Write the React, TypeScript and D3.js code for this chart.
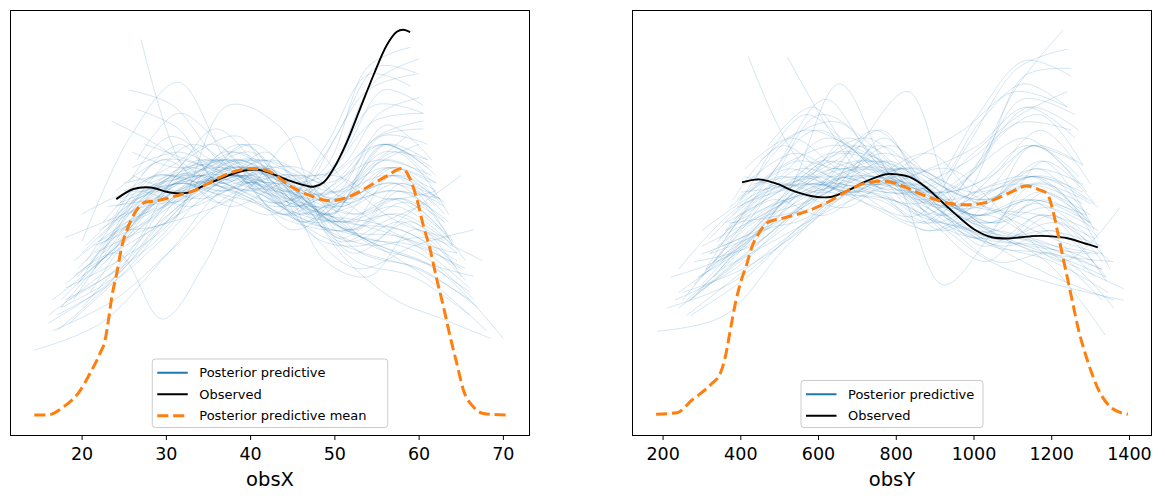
import * as d3 from "d3";
import React from "react";

const W = 1165;
const H = 499;
const FONT = "DejaVu Sans, Verdana, sans-serif";

// ---- obsX panel data (x in data units, y = relative density) ----
const obsXTicks = [20, 30, 40, 50, 60, 70];

const obsXObserved: [number, number][] = [
  [24.05, 55.9], [26.1, 58.5], [28.08, 58.9], [30.46, 57.6], [32.44, 57.5],
  [34.41, 59.3], [36.78, 61.5], [39.15, 63.2], [40.74, 63.5], [42.32, 62.6],
  [44.69, 60.6], [46.68, 59.3], [47.46, 59.1], [48.65, 60.2], [49.83, 63.7],
  [51.42, 70.6], [53.0, 79.2], [54.58, 87.8], [56.17, 95.6], [57.35, 99.0],
  [58.14, 99.5], [58.93, 98.9],
];

const obsXMean: [number, number][] = [
  [14.33, 0.3], [15.83, 0.3], [17.8, 2.4], [19.57, 6.0], [20.96, 11.1],
  [22.15, 16.3], [22.74, 19.7], [23.13, 24.8], [23.54, 30.9], [24.13, 37.0],
  [24.72, 43.8], [25.51, 49.0], [26.3, 52.5], [27.49, 55.1], [28.88, 55.5],
  [31.25, 56.8], [33.22, 58.0], [35.99, 61.1], [38.37, 63.2], [40.34, 63.8],
  [42.32, 62.9], [44.69, 59.3], [47.07, 56.8], [49.44, 55.5], [51.42, 56.3],
  [53.8, 58.9], [56.17, 61.9], [57.95, 63.8], [58.93, 61.1], [59.73, 55.9],
  [60.51, 49.0], [61.3, 43.0], [62.1, 35.2], [62.88, 28.3], [63.68, 20.5],
  [64.47, 13.6], [65.26, 6.7], [66.44, 2.4], [67.63, 0.7], [70.3, 0.3],
];

// each draw: [first x, last x, densities read at evenly spaced x]
const obsXDraws: [number, number, number[]][] = [
  [14.3, 70.0, [17, 24, 42, 60, 55, 45, 38, 20]],
  [16.0, 66.0, [26, 38, 52, 62, 55, 50, 45, 33]],
  [16.5, 64.0, [30, 42, 58, 64, 52, 55, 60, 45]],
  [17.0, 63.0, [22, 35, 55, 66, 58, 50, 62, 55]],
  [17.5, 65.5, [28, 45, 60, 58, 50, 48, 55, 40]],
  [18.0, 62.0, [33, 40, 50, 68, 62, 52, 70, 62]],
  [18.5, 67.0, [24, 38, 55, 62, 56, 42, 38, 28]],
  [19.0, 60.5, [30, 48, 62, 60, 55, 60, 80, 78]],
  [19.5, 64.5, [36, 50, 58, 66, 55, 45, 50, 38]],
  [20.0, 63.5, [28, 44, 64, 62, 48, 56, 68, 52]],
  [20.5, 59.5, [40, 55, 60, 56, 52, 66, 84, 88]],
  [21.0, 66.5, [32, 52, 66, 58, 50, 46, 42, 30]],
  [21.5, 61.0, [38, 58, 62, 68, 60, 52, 72, 70]],
  [22.0, 62.5, [45, 52, 58, 70, 55, 50, 56, 48]],
  [22.5, 60.0, [42, 60, 70, 62, 52, 62, 86, 92]],
  [23.0, 64.0, [48, 62, 58, 55, 50, 48, 60, 44]],
  [23.5, 59.0, [50, 58, 68, 72, 58, 64, 90, 95]],
  [24.0, 61.5, [52, 66, 60, 58, 54, 60, 75, 66]],
  [24.5, 65.0, [55, 60, 66, 62, 46, 44, 50, 36]],
  [25.0, 62.0, [58, 64, 70, 60, 50, 58, 62, 54]],
  [25.5, 60.0, [60, 72, 66, 62, 56, 72, 90, 88]],
  [26.0, 63.0, [62, 58, 60, 68, 54, 48, 58, 50]],
  [26.5, 61.0, [66, 78, 70, 58, 52, 58, 70, 62]],
  [27.0, 58.5, [97, 66, 55, 60, 62, 55, 64, 72]],
  [20.0, 60.0, [45, 72, 86, 66, 55, 50, 64, 70]],
  [18.0, 63.0, [30, 38, 50, 80, 74, 46, 52, 45]],
  [19.0, 61.0, [36, 42, 25, 40, 62, 60, 45, 50, 55]],
  [23.0, 68.5, [40, 56, 62, 64, 56, 40, 30, 25, 20]],
  [22.0, 66.0, [44, 54, 66, 60, 48, 42, 38, 30]],
  [21.0, 67.5, [36, 50, 62, 66, 50, 44, 46, 40]],
  [28.0, 64.5, [60, 64, 66, 60, 40, 36, 48, 42]],
  [25.0, 62.0, [48, 50, 62, 66, 62, 48, 62, 58]],
  [27.5, 60.5, [58, 60, 58, 64, 58, 68, 84, 80]],
  [20.5, 64.5, [38, 46, 54, 62, 64, 54, 46, 42]],
  [17.0, 61.5, [26, 34, 46, 60, 66, 60, 66, 62]],
  [23.5, 63.0, [46, 60, 64, 70, 60, 55, 62, 52]],
  [24.0, 59.0, [54, 58, 62, 58, 55, 70, 88, 85]],
  [26.0, 65.5, [64, 68, 62, 58, 52, 50, 46, 35]],
  [19.5, 62.0, [34, 52, 60, 54, 60, 62, 56, 58]],
  [22.0, 60.5, [48, 54, 56, 62, 58, 56, 72, 76]],
  [18.5, 66.0, [30, 40, 58, 70, 56, 40, 36, 26]],
  [21.5, 63.5, [42, 48, 52, 58, 72, 60, 50, 46]],
  [25.5, 61.5, [56, 62, 74, 64, 50, 56, 64, 60]],
  [27.0, 60.0, [62, 70, 60, 66, 62, 64, 78, 82]],
  [16.5, 68.0, [22, 30, 44, 58, 56, 46, 36, 22]],
  [23.5, 60.5, [76, 70, 62, 56, 52, 60, 72, 74]],
  [25.5, 62.5, [84, 80, 66, 58, 54, 56, 64, 55]],
  [26.5, 61.0, [79, 74, 60, 64, 60, 58, 70, 66]],
  [18.0, 66.5, [46, 52, 58, 62, 50, 38, 44, 48]],
  [20.0, 65.0, [52, 58, 54, 60, 58, 42, 52, 62]],
  [17.5, 64.5, [30, 44, 56, 62, 58, 50, 48, 40]],
  [19.0, 63.0, [40, 50, 56, 64, 60, 56, 60, 54]],
  [20.5, 62.0, [44, 56, 64, 60, 56, 54, 66, 60]],
  [22.5, 65.5, [50, 62, 60, 64, 54, 46, 44, 38]],
  [24.0, 63.5, [58, 66, 64, 60, 56, 52, 56, 46]],
  [21.0, 62.0, [40, 52, 60, 66, 58, 58, 64, 56]],
  [18.0, 64.0, [34, 46, 60, 62, 56, 50, 54, 44]],
  [23.0, 61.0, [54, 56, 60, 64, 54, 60, 70, 64]],
  [25.0, 66.0, [60, 62, 58, 62, 56, 44, 40, 32]],
  [19.5, 60.5, [38, 50, 58, 62, 60, 62, 76, 78]],
  [26.0, 62.5, [68, 64, 66, 60, 52, 54, 60, 56]],
  [22.0, 63.5, [46, 56, 62, 58, 62, 56, 58, 50]],
  [17.5, 62.5, [28, 36, 52, 62, 64, 54, 58, 56]],
  [20.0, 66.5, [36, 48, 58, 66, 54, 46, 40, 36]],
  [24.5, 61.0, [56, 60, 64, 68, 58, 58, 68, 66]],
  [21.5, 64.0, [44, 50, 60, 60, 52, 50, 52, 44]],
  [23.0, 62.0, [50, 58, 56, 60, 62, 54, 64, 60]],
  [16.0, 65.0, [24, 34, 50, 64, 60, 48, 46, 38]],
  [27.5, 63.0, [70, 66, 62, 62, 56, 52, 56, 50]],
  [20.0, 61.5, [42, 54, 62, 58, 54, 62, 70, 64]],
];

// ---- obsY panel data ----
const obsYTicks = [200, 400, 600, 800, 1000, 1200, 1400];

const obsYObserved: [number, number][] = [
  [403.2, 60.5], [446.1, 61.3], [488.8, 60.3], [540.2, 58.1], [591.6, 56.8],
  [634.6, 56.8], [677.5, 58.5], [720.2, 60.7], [771.6, 62.6], [788.8, 62.7],
  [831.8, 62.0], [874.5, 59.4], [917.4, 55.5], [960.3, 51.6], [1003.1, 48.2],
  [1046, 46.3], [1089, 46.0], [1148.8, 46.6], [1191.8, 46.6], [1243.2, 46.0],
  [1286, 44.7], [1318.6, 43.7],
];

const obsYMean: [number, number][] = [
  [182, 0.5], [236, 0.9], [274.6, 4.2], [326, 8.5], [347.4, 11.1],
  [360.2, 15.4], [373, 22.3], [386, 29.2], [398.8, 34.4], [416, 39.6],
  [428.9, 43.9], [446.1, 47.3], [471.8, 50.3], [506, 51.2], [565.9, 52.9],
  [626, 55.5], [677.5, 58.5], [720.2, 60.3], [765, 60.8], [800, 60.2],
  [840.3, 58.5], [891.7, 56.4], [934.7, 55.1], [986, 54.7], [1037.5, 55.5],
  [1089, 57.7], [1136, 59.6], [1170.2, 58.5], [1187.5, 57.7], [1204.7, 52.5],
  [1217.5, 46.5], [1230.4, 40.4], [1243.2, 34.4], [1256.1, 28.3], [1269, 22.3],
  [1286, 16.3], [1303.1, 11.1], [1320.4, 6.8], [1346, 2.9], [1380.3, 0.8],
  [1396, 0.5],
];

const obsYDraws: [number, number, number[]][] = [
  [185, 1385, [22, 26, 45, 58, 52, 40, 34, 30]],
  [220, 1330, [36, 42, 55, 62, 52, 48, 44, 30]],
  [240, 1340, [28, 40, 52, 66, 58, 44, 52, 35]],
  [250, 1320, [32, 38, 48, 60, 64, 50, 45, 42]],
  [270, 1350, [30, 46, 60, 58, 50, 56, 60, 38]],
  [280, 1300, [40, 44, 56, 70, 58, 46, 60, 55]],
  [300, 1360, [34, 50, 62, 64, 52, 40, 42, 28]],
  [310, 1260, [38, 56, 60, 58, 55, 62, 82, 78]],
  [320, 1310, [42, 48, 58, 66, 60, 50, 55, 45]],
  [330, 1290, [36, 52, 66, 60, 48, 56, 70, 58]],
  [340, 1240, [45, 58, 60, 55, 52, 70, 90, 95]],
  [350, 1345, [40, 54, 64, 60, 50, 44, 40, 32]],
  [360, 1280, [48, 60, 58, 70, 60, 52, 70, 65]],
  [370, 1300, [50, 52, 56, 72, 56, 50, 58, 52]],
  [380, 1230, [52, 62, 72, 64, 52, 62, 85, 100]],
  [390, 1320, [55, 64, 58, 56, 50, 48, 58, 46]],
  [400, 1250, [58, 60, 66, 74, 58, 64, 88, 90]],
  [410, 1300, [60, 68, 62, 58, 52, 62, 74, 60]],
  [420, 1340, [93, 66, 58, 64, 50, 44, 48, 36]],
  [430, 1290, [62, 60, 72, 62, 52, 58, 64, 52]],
  [520, 1280, [93, 74, 60, 58, 54, 72, 78, 65]],
  [260, 1310, [30, 42, 58, 86, 62, 48, 56, 66, 48]],
  [330, 1330, [40, 48, 52, 70, 84, 54, 46, 52, 40]],
  [400, 1310, [52, 60, 68, 62, 34, 48, 66, 55]],
  [350, 1375, [38, 46, 54, 60, 64, 52, 40, 54]],
  [410, 1250, [64, 72, 64, 58, 60, 78, 92, 88]],
  [280, 1337, [34, 50, 56, 62, 58, 48, 40, 21]],
  [300, 1385, [44, 52, 60, 58, 56, 46, 40, 33]],
  [240, 1310, [38, 54, 60, 70, 56, 54, 50, 36]],
  [380, 1260, [56, 70, 62, 60, 64, 70, 80, 72]],
  [320, 1270, [46, 60, 74, 66, 56, 64, 72, 60]],
  [270, 1290, [26, 36, 50, 60, 60, 52, 56, 44]],
  [360, 1300, [50, 58, 68, 66, 50, 40, 52, 48]],
  [430, 1330, [60, 62, 58, 64, 58, 52, 46, 42]],
  [300, 1240, [42, 48, 60, 58, 66, 74, 84, 80]],
  [390, 1350, [56, 66, 70, 60, 48, 46, 50, 40]],
  [250, 1300, [30, 48, 64, 58, 50, 58, 62, 50]],
  [340, 1280, [44, 54, 60, 74, 62, 56, 60, 55]],
  [410, 1320, [62, 58, 54, 62, 56, 60, 62, 54]],
  [370, 1270, [54, 62, 58, 56, 50, 66, 80, 74]],
  [230, 1300, [30, 38, 52, 64, 62, 48, 44, 42]],
  [450, 1240, [66, 74, 70, 60, 60, 76, 86, 80]],
  [290, 1360, [36, 46, 62, 66, 54, 44, 36, 30]],
  [345, 1295, [46, 56, 52, 62, 68, 56, 62, 50]],
  [300, 1330, [48, 58, 62, 54, 48, 52, 44, 38]],
  [210, 1310, [28, 34, 46, 58, 60, 50, 46, 40]],
  [260, 1330, [26, 38, 50, 62, 56, 46, 44, 38]],
  [290, 1300, [32, 44, 56, 64, 58, 52, 56, 50]],
  [330, 1280, [40, 58, 78, 70, 56, 54, 62, 58]],
  [360, 1260, [46, 64, 82, 66, 58, 60, 70, 66]],
  [400, 1290, [56, 72, 76, 62, 54, 58, 62, 56]],
  [440, 1300, [62, 78, 70, 64, 56, 50, 56, 50]],
  [470, 1270, [70, 80, 66, 60, 58, 62, 70, 62]],
  [310, 1340, [38, 48, 60, 62, 54, 44, 42, 36]],
  [350, 1310, [44, 50, 58, 68, 62, 54, 52, 46]],
  [270, 1280, [30, 42, 54, 62, 64, 58, 60, 52]],
  [380, 1320, [50, 56, 60, 66, 56, 50, 54, 48]],
  [320, 1250, [42, 52, 58, 60, 60, 66, 76, 74]],
  [420, 1280, [58, 66, 64, 70, 60, 56, 64, 60]],
  [240, 1360, [32, 44, 58, 64, 56, 48, 42, 40]],
  [300, 1290, [36, 50, 64, 72, 60, 52, 56, 52]],
  [390, 1240, [54, 60, 62, 60, 58, 68, 78, 84]],
  [360, 1330, [48, 56, 66, 60, 52, 46, 48, 44]],
];

const legendX = ["Posterior predictive", "Observed", "Posterior predictive mean"];
const legendY = ["Posterior predictive", "Observed"];

// panel frames (pixels)
const TOP = 10.5;
const BOTTOM = 435.5;
const PANEL_W = 519;
const PANEL_LEFTS = [10.5, 632.5];

const BLUE = "#1f77b4";
const ORANGE = "#ff7f0e";

type Draw = [number, number, number[]];

const drawPoints = ([lo, hi, ys]: Draw): [number, number][] =>
  ys.map((y, i) => [lo + (i * (hi - lo)) / (ys.length - 1), y]);

interface PanelProps {
  left: number;
  label: string;
  ticks: number[];
  observed: [number, number][];
  mean: [number, number][];
  draws: Draw[];
  legend: string[];
  legendW: number;
}

const Panel = ({ left, label, ticks, observed, mean, draws, legend, legendW }: PanelProps) => {
  const drawPts = draws.map(drawPoints);
  const allX = [...mean.map((d) => d[0]), ...drawPts.flat().map((d) => d[0])];
  const allY = [...observed, ...mean, ...drawPts.flat()].map((d) => d[1]);
  const [x0, x1] = d3.extent(allX) as [number, number];
  const padX = (x1 - x0) * 0.05;
  const yMax = d3.max(allY) as number;

  const x = d3.scaleLinear().domain([x0 - padX, x1 + padX]).range([left, left + PANEL_W]);
  const y = d3.scaleLinear().domain([-yMax * 0.05, yMax * 1.05]).range([BOTTOM, TOP]);

  const smooth = d3
    .line<[number, number]>()
    .x((d) => x(d[0]))
    .y((d) => y(d[1]))
    .curve(d3.curveCatmullRom.alpha(0.5));
  const meanLine = d3
    .line<[number, number]>()
    .x((d) => x(d[0]))
    .y((d) => y(d[1]))
    .curve(d3.curveMonotoneX);

  const cx = left + PANEL_W / 2;
  const rowH = 21.5;
  const legH = legend.length * rowH + 4;
  const legX = cx - legendW / 2;
  const legY = BOTTOM - 8 - legH;

  return (
    <g>
      <defs>
        <clipPath id={`clip-${label}`}>
          <rect x={left} y={TOP} width={PANEL_W} height={BOTTOM - TOP} />
        </clipPath>
      </defs>
      <g clipPath={`url(#clip-${label})`}>
        {drawPts.map((pts, i) => (
          <path key={i} d={smooth(pts) || ""} fill="none" stroke={BLUE} strokeOpacity={0.22} strokeWidth={0.85} />
        ))}
        <path d={smooth(observed) || ""} fill="none" stroke="#000" strokeWidth={1.9} />
        <path d={meanLine(mean) || ""} fill="none" stroke={ORANGE} strokeWidth={3} strokeDasharray="11.1 4.8" />
      </g>
      <rect x={left} y={TOP} width={PANEL_W} height={BOTTOM - TOP} fill="none" stroke="#000" strokeWidth={1} />
      {ticks.map((t) => (
        <g key={t} transform={`translate(${x(t)},0)`}>
          <line y1={BOTTOM} y2={BOTTOM + 4.5} stroke="#000" strokeWidth={1} />
          <text y={459.5} textAnchor="middle" fontSize={17.5} fontFamily={FONT} fill="#000">
            {t}
          </text>
        </g>
      ))}
      <text x={cx} y={486} textAnchor="middle" fontSize={19.5} fontFamily={FONT} fill="#000">
        {label}
      </text>
      <g>
        <rect x={legX} y={legY} width={legendW} height={legH} rx={3} fill="#fff" fillOpacity={0.8} stroke="#cccccc" strokeWidth={1} />
        {legend.map((name, i) => {
          const ry = legY + 2 + rowH * (i + 0.5) + 1;
          const color = i === 0 ? BLUE : i === 1 ? "#000" : ORANGE;
          return (
            <g key={name}>
              <line
                x1={legX + 5}
                x2={legX + 35.5}
                y1={ry}
                y2={ry}
                stroke={color}
                strokeWidth={i === 2 ? 3 : 2}
                strokeDasharray={i === 2 ? "11.1 4.8" : undefined}
              />
              <text x={legX + 47} y={ry + 4.6} fontSize={13} fontFamily={FONT} fill="#000">
                {name}
              </text>
            </g>
          );
        })}
      </g>
    </g>
  );
};

export default function App() {
  return (
    <svg
      width={W}
      height={H}
      viewBox={`0 0 ${W} ${H}`}
      style={{ position: "absolute", left: 0, top: 0, background: "#fff" }}
    >
      <rect width={W} height={H} fill="#fff" />
      <Panel
        left={PANEL_LEFTS[0]}
        label="obsX"
        ticks={obsXTicks}
        observed={obsXObserved}
        mean={obsXMean}
        draws={obsXDraws}
        legend={legendX}
        legendW={235.5}
      />
      <Panel
        left={PANEL_LEFTS[1]}
        label="obsY"
        ticks={obsYTicks}
        observed={obsYObserved}
        mean={obsYMean}
        draws={obsYDraws}
        legend={legendY}
        legendW={182}
      />
    </svg>
  );
}
